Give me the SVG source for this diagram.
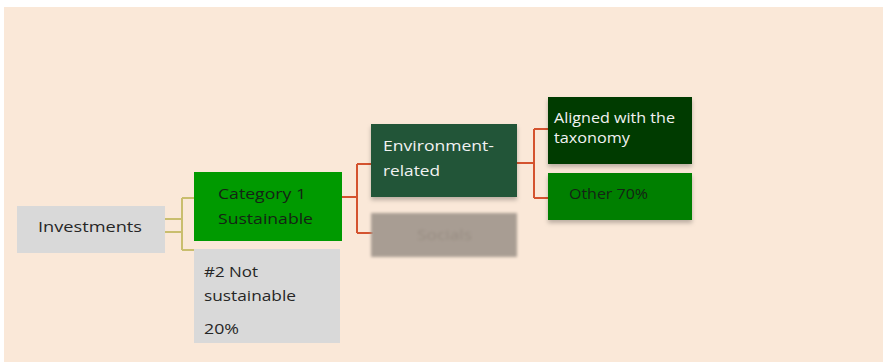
<svg xmlns="http://www.w3.org/2000/svg" width="883" height="363" viewBox="0 0 883 363">
<defs>
<style>
.t{font-family:"Open Sans","Liberation Sans",Arial,sans-serif;font-size:15px}
.s{font-size:14px}
.dk{fill:#142414}
.lt{fill:#f2f2f2}
.c1{fill:none;stroke:#c9be6e;stroke-width:2}
.c2{fill:none;stroke:#d4532f;stroke-width:2}
</style>
<filter id="sh" x="-10%" y="-10%" width="120%" height="140%">
<feDropShadow dx="0" dy="3" stdDeviation="2" flood-color="#000" flood-opacity="0.25"/>
</filter>
<filter id="blur" x="-10%" y="-20%" width="120%" height="140%">
<feGaussianBlur stdDeviation="1.8"/>
</filter>
</defs>
<rect x="4" y="7" width="879" height="355" fill="#fae8d8"/>
<g id="connectors">
<path class="c1" d="M165 219H182M165 232H182M182 198V250M182 198H194M182 250H196"/>
<path class="c2" d="M342 197H357M357 164V233M357 164H371M357 233H373"/>
<path class="c2" d="M517 163H534M534 129V198M534 129H548M534 198H548"/>
</g>
<g id="investments">
<rect x="17" y="206" width="148" height="47" fill="#d9d9d9"/>
<text class="t" x="38" y="232" fill="#262626" textLength="104" lengthAdjust="spacingAndGlyphs">Investments</text>
</g>
<g id="category1">
<rect x="194" y="172" width="148" height="69" fill="#009a00"/>
<text class="t dk" x="218" y="199" textLength="88" lengthAdjust="spacingAndGlyphs">Category 1</text>
<text class="t dk" x="218" y="224" textLength="95" lengthAdjust="spacingAndGlyphs">Sustainable</text>
</g>
<g id="notsustainable">
<rect x="194" y="249" width="146" height="94" fill="#d9d9d9"/>
<text class="t" x="204" y="277" fill="#262626" textLength="54" lengthAdjust="spacingAndGlyphs">#2 Not</text>
<text class="t" x="204" y="301" fill="#262626" textLength="92" lengthAdjust="spacingAndGlyphs">sustainable</text>
<text class="t" x="204" y="334" fill="#262626" textLength="35" lengthAdjust="spacingAndGlyphs">20%</text>
</g>
<g id="environment">
<rect x="371" y="124" width="146" height="73" fill="#245539" filter="url(#sh)"/>
<text class="t lt" x="383" y="151" textLength="111" lengthAdjust="spacingAndGlyphs">Environment-</text>
<text class="t lt" x="383" y="176" textLength="57" lengthAdjust="spacingAndGlyphs">related</text>
</g>
<g id="socials" filter="url(#blur)">
<rect x="371" y="213" width="146" height="44" fill="#a89d93"/>
<text class="t" x="417" y="240" fill="#978c82" textLength="55" lengthAdjust="spacingAndGlyphs">Socials</text>
</g>
<g id="aligned">
<rect x="548" y="97" width="144" height="67" fill="#033a03" filter="url(#sh)"/>
<text class="t s lt" x="554" y="123" textLength="121" lengthAdjust="spacingAndGlyphs">Aligned with the</text>
<text class="t s lt" x="554" y="143" textLength="76" lengthAdjust="spacingAndGlyphs">taxonomy</text>
</g>
<g id="other">
<rect x="548" y="173" width="144" height="47" fill="#007f00" filter="url(#sh)"/>
<text class="t dk" x="569" y="199" textLength="79" lengthAdjust="spacingAndGlyphs">Other 70%</text>
</g>
</svg>
